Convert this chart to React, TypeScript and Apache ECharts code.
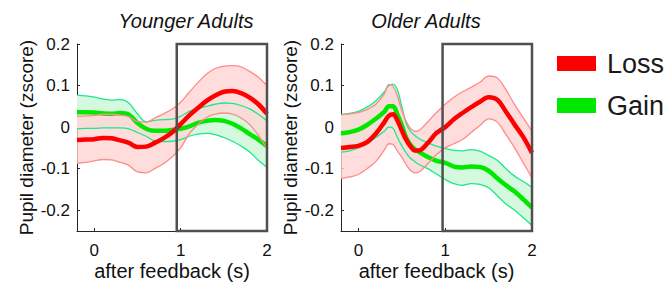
import React, { useEffect, useRef } from "react";
import * as echarts from "echarts";

const FONT = '"Liberation Sans", Arial, Helvetica, sans-serif';

// Time axis (s after feedback)
const T_YOUNG = [-0.2, -0.1, 0, 0.1, 0.2, 0.3, 0.4, 0.5, 0.6, 0.7, 0.8, 0.9, 1.0, 1.1, 1.2, 1.3, 1.4, 1.5, 1.6, 1.7, 1.8, 1.9, 2.0];
const T_OLD = [-0.2, -0.1, 0, 0.1, 0.2, 0.3, 0.35, 0.4, 0.45, 0.5, 0.55, 0.6, 0.65, 0.7, 0.8, 0.9, 1.0, 1.1, 1.2, 1.3, 1.4, 1.5, 1.6, 1.7, 1.8, 1.9, 2.0];

// Younger adults
const YOUNG_LOSS_MEAN = [-0.031, -0.03, -0.029, -0.026, -0.027, -0.032, -0.038, -0.048, -0.047, -0.038, -0.027, -0.013, 0.007, 0.028, 0.046, 0.063, 0.076, 0.085, 0.087, 0.082, 0.071, 0.055, 0.032];
const YOUNG_LOSS_UP = [0.026, 0.027, 0.028, 0.031, 0.031, 0.029, 0.025, 0.013, 0.012, 0.022, 0.032, 0.043, 0.06, 0.084, 0.107, 0.128, 0.141, 0.147, 0.148, 0.145, 0.134, 0.12, 0.1];
const YOUNG_LOSS_LO = [-0.087, -0.085, -0.081, -0.078, -0.079, -0.085, -0.092, -0.108, -0.11, -0.1, -0.088, -0.072, -0.05, -0.016, 0.006, 0.023, 0.031, 0.034, 0.031, 0.022, 0.006, -0.02, -0.052];
const YOUNG_GAIN_MEAN = [0.036, 0.036, 0.035, 0.033, 0.032, 0.034, 0.03, 0.01, -0.004, -0.009, -0.009, -0.007, -0.004, 0.002, 0.01, 0.015, 0.017, 0.015, 0.008, -0.003, -0.017, -0.03, -0.046];
const YOUNG_GAIN_UP = [0.077, 0.075, 0.072, 0.068, 0.065, 0.066, 0.058, 0.032, 0.013, 0.016, 0.018, 0.019, 0.026, 0.038, 0.045, 0.05, 0.055, 0.058, 0.057, 0.052, 0.044, 0.031, 0.015];
const YOUNG_GAIN_LO = [-0.004, -0.003, -0.003, -0.002, -0.002, -0.002, -0.004, -0.013, -0.022, -0.033, -0.035, -0.034, -0.03, -0.022, -0.017, -0.015, -0.018, -0.025, -0.034, -0.046, -0.06, -0.08, -0.097];

// Older adults
const OLD_LOSS_MEAN = [-0.05, -0.048, -0.045, -0.036, -0.016, 0.012, 0.027, 0.031, 0.016, -0.008, -0.03, -0.046, -0.056, -0.056, -0.038, -0.014, 0.0, 0.019, 0.034, 0.048, 0.061, 0.072, 0.066, 0.037, 0.006, -0.024, -0.062];
const OLD_LOSS_UP = [0.03, 0.032, 0.035, 0.042, 0.055, 0.08, 0.102, 0.098, 0.075, 0.04, 0.014, -0.003, -0.01, -0.008, 0.013, 0.035, 0.055, 0.072, 0.085, 0.096, 0.108, 0.123, 0.118, 0.09, 0.054, 0.022, -0.01];
const OLD_LOSS_LO = [-0.124, -0.12, -0.114, -0.1, -0.083, -0.055, -0.04, -0.042, -0.058, -0.072, -0.09, -0.104, -0.11, -0.108, -0.088, -0.066, -0.05, -0.04, -0.03, -0.013, 0.004, 0.02, 0.012, -0.018, -0.05, -0.086, -0.122];
const OLD_GAIN_MEAN = [-0.015, -0.012, -0.006, 0.005, 0.02, 0.037, 0.05, 0.05, 0.03, 0.005, -0.025, -0.043, -0.053, -0.06, -0.072, -0.081, -0.086, -0.095, -0.097, -0.095, -0.096, -0.105, -0.123, -0.14, -0.155, -0.174, -0.194];
const OLD_GAIN_UP = [0.03, 0.033, 0.038, 0.048, 0.063, 0.085, 0.1, 0.103, 0.09, 0.05, 0.01, -0.01, -0.02, -0.028, -0.038, -0.046, -0.052, -0.056, -0.057, -0.054, -0.058, -0.068, -0.08, -0.1, -0.118, -0.131, -0.145];
const OLD_GAIN_LO = [-0.06, -0.057, -0.05, -0.04, -0.025, -0.01, 0.0, -0.003, -0.025, -0.045, -0.062, -0.075, -0.083, -0.09, -0.1, -0.113, -0.126, -0.136, -0.14, -0.136, -0.138, -0.146, -0.165, -0.185, -0.2, -0.218, -0.237];

const PANEL_TITLES = ["Younger Adults", "Older Adults"];
const X_TICKS = [0, 1, 2];
const Y_TICKS = [-0.2, -0.1, 0, 0.1, 0.2];
const X_RANGE = [-0.2, 2];
const Y_RANGE = [-0.25, 0.2];
const BOX_START = [0.955, 0.97];
const BOX_END = 2;

const LOSS_COLOR = "#FF0000";
const LOSS_EDGE = "#FF8A8A";
const LOSS_FILL = "rgba(255,212,212,0.8)";
const GAIN_COLOR = "#00E800";
const GAIN_EDGE = "#1CE88C";
const GAIN_FILL = "#D4F9DE";
const AXIS_COLOR = "#262626";

const SMOOTH = 0.35;

function pairs(t: number[], v: number[]) {
  return t.map((x, i) => [x, v[i]]);
}

function bandSeries(idx: number, t: number[], up: number[], lo: number[], name: string, fill: string) {
  return {
    type: "custom",
    name,
    xAxisIndex: idx,
    yAxisIndex: idx,
    silent: true,
    clip: true,
    data: [[t[0], up[0]]],
    encode: { x: 0, y: 1 },
    renderItem: (_params: any, api: any) => {
      const pts: number[][] = [];
      for (let i = 0; i < t.length; i++) pts.push(api.coord([t[i], up[i]]));
      for (let i = t.length - 1; i >= 0; i--) pts.push(api.coord([t[i], lo[i]]));
      return {
        type: "polygon",
        shape: { points: pts },
        style: { fill, stroke: "none" },
        silent: true,
      };
    },
  };
}

function lineSeries(idx: number, t: number[], v: number[], name: string, color: string, width: number) {
  return {
    type: "line",
    name,
    xAxisIndex: idx,
    yAxisIndex: idx,
    symbol: "none",
    smooth: SMOOTH,
    silent: true,
    data: pairs(t, v),
    lineStyle: { color, width },
    itemStyle: { color },
  };
}

function panel(idx: number, t: number[], lm: number[], lu: number[], ll: number[], gm: number[], gu: number[], gl: number[]) {
  const lossMean: any = lineSeries(idx, t, lm, "Loss", LOSS_COLOR, 4.5);
  lossMean.markArea = {
    silent: true,
    z: 10,
    itemStyle: { color: "rgba(0,0,0,0)", borderColor: "#505050", borderWidth: 2.5 },
    data: [[{ xAxis: BOX_START[idx], yAxis: Y_RANGE[1] }, { xAxis: BOX_END, yAxis: Y_RANGE[0] }]],
  };
  return [
    bandSeries(idx, t, gu, gl, "gainBand" + idx, GAIN_FILL),
    lineSeries(idx, t, gu, "gainUp" + idx, GAIN_EDGE, 1.3),
    lineSeries(idx, t, gl, "gainLo" + idx, GAIN_EDGE, 1.3),
    lineSeries(idx, t, gm, "Gain", GAIN_COLOR, 4.5),
    bandSeries(idx, t, lu, ll, "lossBand" + idx, LOSS_FILL),
    lineSeries(idx, t, lu, "lossUp" + idx, LOSS_EDGE, 1.3),
    lineSeries(idx, t, ll, "lossLo" + idx, LOSS_EDGE, 1.3),
    lossMean,
  ];
}

const GRIDS = [
  { left: 77, top: 44, width: 190, height: 187 },
  { left: 341, top: 44, width: 191, height: 187 },
];
const TITLE_POS = [
  [186, 21],
  [426, 21],
];

export default function App() {
  const ref = useRef<HTMLDivElement>(null);
  useEffect(() => {
    const chart = echarts.init(ref.current!, null, { renderer: "svg" });
    const option: any = {
      animation: false,
      backgroundColor: "#ffffff",
      grid: GRIDS.map((g) => ({ ...g, containLabel: false, outerBoundsMode: "none" })),
      xAxis: [0, 1].map((i) => ({
        type: "value",
        gridIndex: i,
        min: X_RANGE[0],
        max: X_RANGE[1],
        axisLine: { show: true, onZero: false, lineStyle: { color: AXIS_COLOR, width: 1 } },
        axisTick: { show: true, inside: true, length: 3, customValues: X_TICKS, lineStyle: { color: AXIS_COLOR } },
        axisLabel: { show: true, customValues: X_TICKS, fontSize: 17, color: "#111", margin: 11, fontFamily: FONT },
        splitLine: { show: false },
        name: "after feedback (s)",
        nameLocation: "middle",
        nameGap: 30,
        nameMoveOverlap: false,
        nameTextStyle: { fontSize: 20, color: "#111", fontFamily: FONT },
      })),
      yAxis: [0, 1].map((i) => ({
        type: "value",
        gridIndex: i,
        min: Y_RANGE[0],
        max: Y_RANGE[1],
        axisLine: { show: true, onZero: false, lineStyle: { color: AXIS_COLOR, width: 1 } },
        axisTick: { show: true, inside: true, length: 3, customValues: Y_TICKS, lineStyle: { color: AXIS_COLOR } },
        axisLabel: {
          show: true,
          customValues: Y_TICKS,
          fontSize: 17,
          color: "#111",
          margin: 7,
          fontFamily: FONT,
          formatter: (v: number) => String(Math.round(v * 10) / 10),
        },
        splitLine: { show: false },
        name: "Pupil diameter (zscore)",
        nameLocation: "middle",
        nameRotate: 90,
        nameGap: 41,
        nameMoveOverlap: false,
        nameTextStyle: { fontSize: 19, color: "#111", fontFamily: FONT },
      })),
      legend: {
        data: [
          { name: "Loss", icon: "rect" },
          { name: "Gain", icon: "rect" },
        ],
        orient: "vertical",
        left: 557,
        top: 50,
        padding: 0,
        itemWidth: 39,
        itemHeight: 15,
        itemGap: 15,
        selectedMode: false,
        textStyle: { fontSize: 27, color: "#1a1a1a", fontFamily: FONT, padding: [0, 0, 0, 6] },
      },
      graphic: PANEL_TITLES.map((text, i) => ({
        type: "text",
        x: TITLE_POS[i][0],
        y: TITLE_POS[i][1],
        style: {
          text,
          fill: "#111",
          font: `italic 20px ${FONT}`,
          align: "center",
          verticalAlign: "middle",
        },
      })),
      series: [
        ...panel(0, T_YOUNG, YOUNG_LOSS_MEAN, YOUNG_LOSS_UP, YOUNG_LOSS_LO, YOUNG_GAIN_MEAN, YOUNG_GAIN_UP, YOUNG_GAIN_LO),
        ...panel(1, T_OLD, OLD_LOSS_MEAN, OLD_LOSS_UP, OLD_LOSS_LO, OLD_GAIN_MEAN, OLD_GAIN_UP, OLD_GAIN_LO),
      ],
    };
    chart.setOption(option);
    return () => chart.dispose();
  }, []);
  return <div ref={ref} style={{ position: "absolute", left: 0, top: 0, width: 666, height: 283 }} />;
}
